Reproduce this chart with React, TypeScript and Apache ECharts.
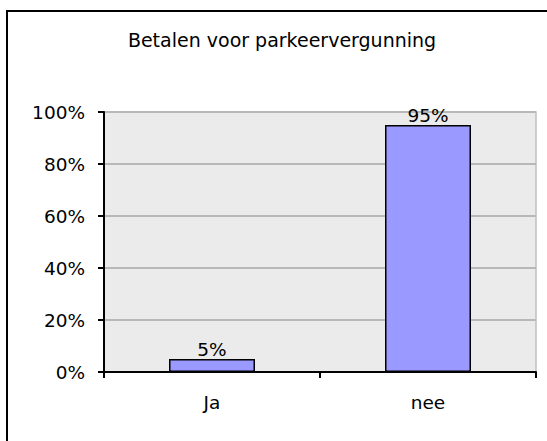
import React, { useEffect, useRef } from "react";
import * as echarts from "echarts";

const titleText = "Betalen voor parkeervergunning";
const categories = ["Ja", "nee"];
const values = [5, 95];
const yTicks = { min: 0, max: 100, interval: 20 };

const FONT = "DejaVu Sans";
const FS = 18.5;

export default function App() {
  const ref = useRef<HTMLDivElement>(null);
  useEffect(() => {
    if (!ref.current) return;
    const chart = echarts.init(ref.current, null, { renderer: "svg" });
    chart.setOption({
      animation: false,
      backgroundColor: "#ffffff",
      graphic: [
        {
          type: "rect",
          shape: { x: 7, y: 11, width: 700, height: 600 },
          style: { fill: "none", stroke: "#000", lineWidth: 2 },
          z: 100,
          silent: true,
        },
        {
          type: "text",
          x: 282,
          y: 39.5,
          style: {
            text: titleText,
            fill: "#000",
            font: `19px "${FONT}"`,
            align: "center",
            verticalAlign: "middle",
          },
        },
      ],
      grid: {
        left: 104,
        top: 112,
        width: 432,
        height: 260,
        show: true,
        backgroundColor: "#ebebeb",
        borderColor: "#c0c0c0",
        borderWidth: 1.5,
      },
      xAxis: {
        type: "category",
        data: categories,
        axisLine: { show: true, lineStyle: { color: "#000", width: 2 } },
        axisTick: { show: true, length: 6, lineStyle: { color: "#000", width: 2 } },
        axisLabel: { color: "#000", fontFamily: FONT, fontSize: FS, margin: 21 },
        splitLine: { show: false },
      },
      yAxis: {
        type: "value",
        min: yTicks.min,
        max: yTicks.max,
        interval: yTicks.interval,
        axisLine: { show: true, lineStyle: { color: "#000", width: 2 } },
        axisTick: { show: true, length: 6, lineStyle: { color: "#000", width: 2 } },
        axisLabel: {
          color: "#000",
          fontFamily: FONT,
          fontSize: FS,
          margin: 19,
          formatter: "{value}%",
        },
        splitLine: { show: true, lineStyle: { color: "#b8b8b8", width: 2 } },
      },
      series: [
        {
          type: "bar",
          data: values,
          barWidth: 86,
          itemStyle: { color: "#9999ff", borderColor: "#000", borderWidth: 1.5 },
          label: {
            show: true,
            position: "top",
            distance: 0,
            formatter: "{c}%",
            color: "#000",
            fontFamily: FONT,
            fontSize: FS,
          },
        },
      ],
    });
    return () => chart.dispose();
  }, []);
  return (
    <div
      ref={ref}
      style={{ position: "fixed", left: 0, top: 0, width: 547, height: 441 }}
    />
  );
}
